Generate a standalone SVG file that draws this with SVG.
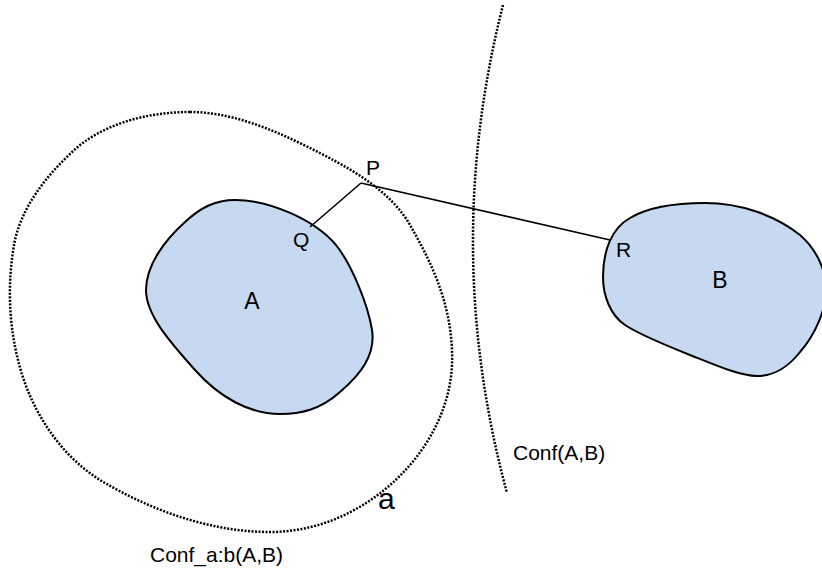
<svg xmlns="http://www.w3.org/2000/svg" width="822" height="572" viewBox="0 0 822 572">
<style>
.blob{fill:#c6d9f1;stroke:#000;stroke-width:2}
.dot{fill:none;stroke:#000;stroke-width:2.5;stroke-dasharray:2 1.5}
.ln{fill:none;stroke:#000;stroke-width:1.6}
text{font-family:"Liberation Sans",Arial,sans-serif;fill:#000}
</style>
<rect width="822" height="572" fill="#fff"/>
<g id="region-a">
<path class="dot" d="M190,112 C230,112 270,128 310,148 C350,168 390,190 410,225 C430,260 450,300 452,350 C454,390 440,430 410,465 C380,500 330,532 270,532 C210,532 150,510 100,480 C60,455 30,410 18,360 C8,320 8,280 14,245 C20,210 45,175 80,145 C110,122 150,112 190,112 Z"/>
<text x="378" y="509" font-size="30">a</text>
<text x="150" y="562" font-size="21">Conf_a:b(A,B)</text>
</g>
<g id="conf-ab">
<path class="dot" d="M503,5 Q441,249 507,493"/>
<text x="513" y="460" font-size="21">Conf(A,B)</text>
</g>
<g id="node-A">
<path class="blob" d="M235,200 C270,200 315,220 336,245 C352,265 368,305 372,330 C376,355 360,375 340,392 C320,410 300,414 280,414 C250,414 220,398 195,370 C170,342 146,315 146,290 C146,265 165,240 185,222 C200,208 215,200 235,200 Z"/>
<text x="252" y="309" font-size="23" text-anchor="middle">A</text>
</g>
<g id="node-B">
<path class="blob" d="M603,277 C603,250 612,228 630,218 C650,206 680,203 705,203 C740,203 775,215 800,235 C815,248 826,268 826,290 C826,310 815,335 800,352 C790,365 775,376 757,376 C740,376 715,365 690,355 C665,345 640,335 625,325 C610,315 603,295 603,277 Z"/>
<text x="720" y="288" font-size="23" text-anchor="middle">B</text>
</g>
<g id="connectors">
<line class="ln" x1="361" y1="183" x2="310" y2="227"/>
<line class="ln" x1="361" y1="183" x2="610" y2="240"/>
</g>
<g id="labels">
<text x="366" y="175" font-size="21">P</text>
<text x="293" y="247" font-size="21">Q</text>
<text x="616" y="257" font-size="21">R</text>
</g>
</svg>
